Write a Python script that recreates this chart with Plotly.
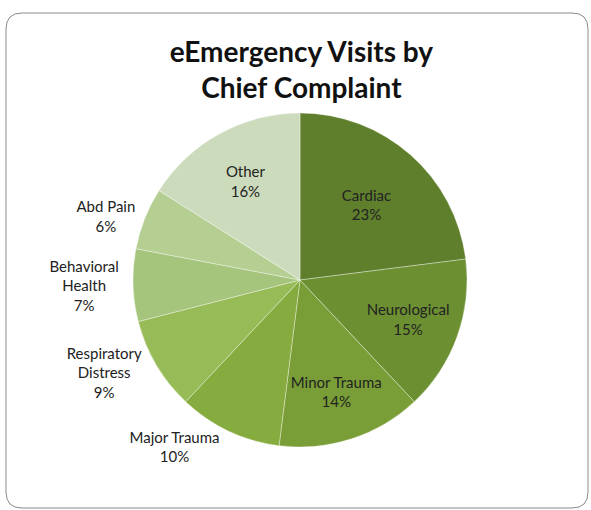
import plotly.graph_objects as go

labels = ["Cardiac", "Neurological", "Minor Trauma", "Major Trauma",
          "Respiratory Distress", "Behavioral Health", "Abd Pain", "Other"]
label_text = ["Cardiac", "Neurological", "Minor Trauma", "Major Trauma",
              "Respiratory<br>Distress", "Behavioral<br>Health", "Abd Pain", "Other"]
values = [23, 15, 14, 10, 9, 7, 6, 16]
colors = ["#5f7f2d", "#6c8f31", "#7a9e37", "#86ab3e", "#97bb57",
          "#a5c47c", "#b5cf93", "#cddbbd"]
positions = ["inside", "inside", "inside", "outside", "outside",
             "outside", "outside", "inside"]

W, H = 591, 510

def px(x):
    return x / W

def py(y):
    return 1 - y / H

cx, cy, r = 300, 280, 167
FONT = "Lato, Open Sans, sans-serif"

fig = go.Figure(go.Pie(
    labels=labels,
    values=values,
    text=label_text,
    texttemplate="%{text}<br>%{value}%",
    textposition=positions,
    insidetextorientation="horizontal",
    sort=False,
    direction="clockwise",
    rotation=0,
    marker=dict(colors=colors, line=dict(color="rgba(255,255,255,0.35)", width=1)),
    textfont=dict(family=FONT, size=15, color="#222222"),
    insidetextfont=dict(family=FONT, size=15, color="#222222"),
    outsidetextfont=dict(family=FONT, size=15, color="#222222"),
    domain=dict(x=[px(cx - r), px(cx + r)], y=[py(cy + r), py(cy - r)]),
    showlegend=False,
    hoverinfo="label+percent",
))

# rounded border frame
x0, x1, y0, y1, rc = 6, 588, 13, 508, 16
path = (f"M {px(x0+rc)},{py(y0)} L {px(x1-rc)},{py(y0)} "
        f"Q {px(x1)},{py(y0)} {px(x1)},{py(y0+rc)} "
        f"L {px(x1)},{py(y1-rc)} Q {px(x1)},{py(y1)} {px(x1-rc)},{py(y1)} "
        f"L {px(x0+rc)},{py(y1)} Q {px(x0)},{py(y1)} {px(x0)},{py(y1-rc)} "
        f"L {px(x0)},{py(y0+rc)} Q {px(x0)},{py(y0)} {px(x0+rc)},{py(y0)} Z")

fig.update_layout(
    width=W, height=H,
    margin=dict(l=0, r=0, t=0, b=0),
    paper_bgcolor="white",
    plot_bgcolor="white",
    title=dict(
        text="<b>eEmergency Visits by<br>Chief Complaint</b>",
        x=0.51, xanchor="center",
        y=py(62), yanchor="top",
        font=dict(family=FONT, size=28, color="#111111"),
    ),
    shapes=[dict(type="path", path=path, xref="paper", yref="paper",
                 line=dict(color="#8a8a8a", width=1), layer="below")],
)

fig.write_html("out.html")
